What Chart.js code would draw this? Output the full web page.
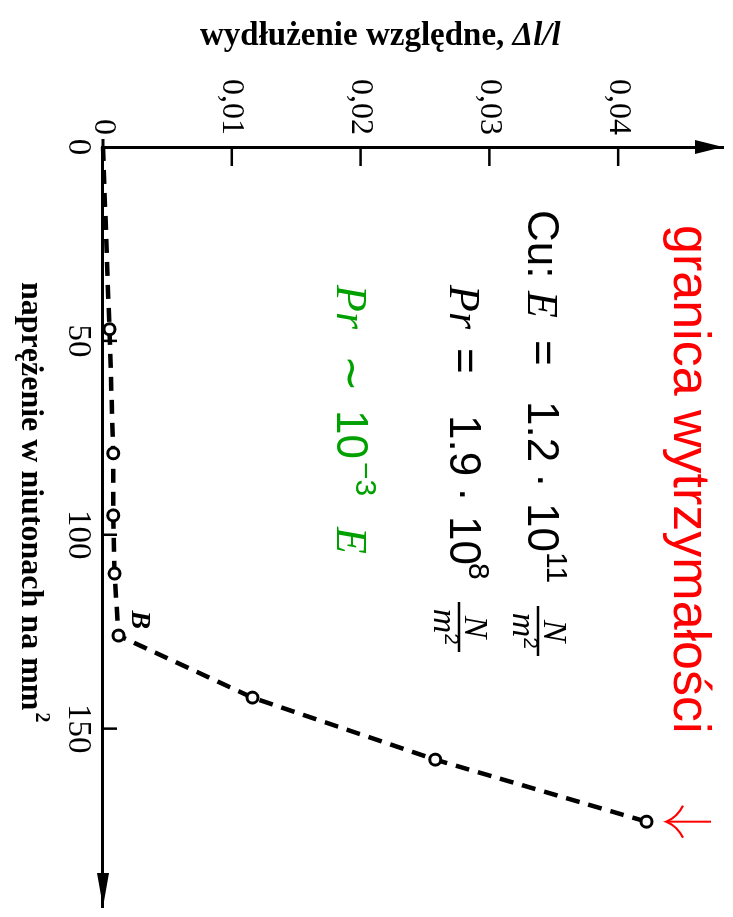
<!DOCTYPE html>
<html>
<head>
<meta charset="utf-8">
<script src="https://cdn.jsdelivr.net/npm/chart.js@4.4.1/dist/chart.umd.min.js"></script>
<style>
  html, body { margin: 0; padding: 0; background: #fff; overflow: hidden; }
  /* the figure is printed turned a quarter clockwise: draw it upright, then rotate */
  #wrap {
    position: absolute; left: 0; top: 0; width: 917px; height: 733px;
    transform-origin: 0 0; transform: translate(733px, 0) rotate(90deg);
  }
</style>
</head>
<body>
<div id="wrap"><canvas id="chart" width="917" height="733"></canvas></div>
<script>
// stress-strain curve for copper
const STRESS = [0, 47, 79, 95, 110, 126, 142, 158, 174];
const STRAIN = [0, 0.0005, 0.0008, 0.0008, 0.0009, 0.0012, 0.0116, 0.0258, 0.0422];

const STRESS_TICKS = [0, 50, 100, 150];
const STRESS_TICK_LABELS = ['0', '50', '100', '150'];
const STRAIN_TICKS = [0, 0.01, 0.02, 0.03, 0.04];
const STRAIN_TICK_LABELS = ['0', '0,01', '0,02', '0,03', '0,04'];

const POINT_LABEL = 'B';
const POINT_LABEL_INDEX = 5;

const X_TITLE = 'naprężenie w niutonach na mm';
const Y_TITLE = 'wydłużenie względne, ';
const Y_TITLE_SYMBOL = 'Δl/l';
const LIMIT_LABEL = 'granica wytrzymałości';

const SANS = '"Liberation Sans", Arial, sans-serif';
const SERIF = '"Liberation Serif", "Times New Roman", serif';
const GREEN = '#00a000';
const RED = '#ff0000';

// ── HELPERS ──────────────────────────────────────

function line(ctx, x1, y1, x2, y2) {
  ctx.beginPath();
  ctx.moveTo(x1, y1);
  ctx.lineTo(x2, y2);
  ctx.stroke();
}

function runs(ctx, base, parts) {
  ctx.textAlign = 'left';
  ctx.textBaseline = 'alphabetic';
  parts.forEach(p => {
    ctx.font = p.font;
    ctx.fillText(p.t, p.u, base - (p.rise || 0));
  });
}

function fraction(ctx, u, barV, w) {
  ctx.lineWidth = 2.5;
  line(ctx, u, barV, u + w, barV);
  ctx.textAlign = 'center';
  ctx.font = 'italic 34px ' + SERIF;
  ctx.fillText('N', u + w / 2, barV - 6);
  const mw = ctx.measureText('m').width;
  ctx.fillText('m', u + w / 2 - 6, barV + 25);
  ctx.font = '21px ' + SANS;
  ctx.textAlign = 'left';
  ctx.fillText('2', u + w / 2 - 6 + mw / 2, barV + 14);
}

// ── ANNOTATIONS, INWARD TICKS, ARROWS ────────────

const annotations = {
  id: 'annotations',
  afterDraw(chart) {
    const ctx = chart.ctx;
    const xs = chart.scales.x;
    const ys = chart.scales.y;
    const a = chart.chartArea;
    ctx.save();

    // tick marks pointing into the plot
    ctx.strokeStyle = '#000';
    ctx.lineWidth = 2.5;
    STRAIN_TICKS.slice(1).forEach(t => {
      const v = ys.getPixelForValue(t);
      line(ctx, a.left, v, a.left + 19, v);
    });
    STRESS_TICKS.slice(1).forEach(t => {
      const u = xs.getPixelForValue(t);
      line(ctx, u, a.bottom, u, a.bottom - 14);
    });

    // axis arrow heads
    ctx.fillStyle = '#000';
    ctx.beginPath();
    ctx.moveTo(a.right, a.bottom);
    ctx.lineTo(a.right - 34, a.bottom - 6);
    ctx.lineTo(a.right - 34, a.bottom + 6);
    ctx.closePath();
    ctx.fill();
    ctx.beginPath();
    ctx.moveTo(a.left, a.top);
    ctx.lineTo(a.left - 7, a.top + 28);
    ctx.lineTo(a.left + 7, a.top + 28);
    ctx.closePath();
    ctx.fill();
    ctx.lineWidth = 3;
    line(ctx, a.left, a.bottom, a.left - 8, a.bottom);

    // axis titles
    ctx.fillStyle = '#000';
    ctx.textAlign = 'left';
    ctx.textBaseline = 'alphabetic';
    ctx.font = 'bold 32px ' + SERIF;
    ctx.fillText(X_TITLE, 282, 711);
    const xw = ctx.measureText(X_TITLE).width;
    ctx.font = 'bold 20px ' + SERIF;
    ctx.fillText('2', 282 + xw + 2, 697);

    ctx.save();
    ctx.translate(45, 533);
    ctx.rotate(-Math.PI / 2);
    ctx.font = 'bold 33px ' + SERIF;
    ctx.fillText(Y_TITLE, 0, 0);
    const yw = ctx.measureText(Y_TITLE).width;
    ctx.font = 'italic bold 33px ' + SERIF;
    ctx.fillText(Y_TITLE_SYMBOL, yw, 0);
    ctx.restore();

    // label of the point B
    const pts = chart.getDatasetMeta(0).data;
    const pb = pts[POINT_LABEL_INDEX];
    ctx.font = 'italic bold 28px ' + SERIF;
    ctx.fillText(POINT_LABEL, pb.x - 25, pb.y - 14);

    // formulas
    ctx.fillStyle = '#000';
    ctx.strokeStyle = '#000';
    runs(ctx, 205, [
      { t: 'Cu:', font: '44px ' + SANS, u: 210 },
      { t: 'E', font: 'italic 44px ' + SERIF, u: 291 },
      { t: '=', font: '44px ' + SANS, u: 340 },
      { t: '1.2', font: '44px ' + SANS, u: 401 },
      { t: '·', font: '44px ' + SANS, u: 473 },
      { t: '10', font: '44px ' + SANS, u: 503 },
      { t: '11', font: '30px ' + SANS, u: 552, rise: 19 }
    ]);
    fraction(ctx, 606, 195, 50);

    runs(ctx, 283, [
      { t: 'Pr', font: 'italic 44px ' + SERIF, u: 285 },
      { t: '=', font: '44px ' + SANS, u: 348 },
      { t: '1.9', font: '44px ' + SANS, u: 415 },
      { t: '·', font: '44px ' + SANS, u: 487 },
      { t: '10', font: '44px ' + SANS, u: 516 },
      { t: '8', font: '30px ' + SANS, u: 563, rise: 19 }
    ]);
    fraction(ctx, 602, 274, 50);

    ctx.fillStyle = GREEN;
    runs(ctx, 396, [
      { t: 'Pr', font: 'italic 44px ' + SERIF, u: 285 },
      { t: '∼', font: '44px ' + SERIF, u: 355 },
      { t: '10', font: '44px ' + SANS, u: 410 },
      { t: '−3', font: '30px ' + SANS, u: 462, rise: 19 },
      { t: 'E', font: 'italic 44px ' + SERIF, u: 527 }
    ]);

    // limit of strength, arrow towards the last point
    ctx.fillStyle = RED;
    ctx.strokeStyle = RED;
    runs(ctx, 59, [{ t: LIMIT_LABEL, font: '52px ' + SANS, u: 225 }]);
    const pl = pts[pts.length - 1];
    ctx.lineWidth = 2;
    line(ctx, pl.x, 22, pl.x, 66);
    ctx.beginPath();
    ctx.moveTo(pl.x - 16, 50);
    ctx.quadraticCurveTo(pl.x - 4, 56, pl.x, 67);
    ctx.quadraticCurveTo(pl.x + 4, 56, pl.x + 16, 50);
    ctx.stroke();

    ctx.restore();
  }
};

// ── CHART ────────────────────────────────────────

const ctx = document.getElementById('chart').getContext('2d');
new Chart(ctx, {
  type: 'scatter',
  data: {
    datasets: [{
      data: STRESS.map((s, i) => ({ x: s, y: STRAIN[i] })),
      showLine: true,
      borderColor: '#000',
      borderWidth: 4.5,
      borderDash: [14, 9],
      pointRadius: STRESS.map((s, i) => (i === 0 ? 0 : 5.5)),
      pointBorderWidth: 3,
      pointBorderColor: '#000',
      pointBackgroundColor: '#fff',
      clip: false
    }]
  },
  options: {
    responsive: false,
    animation: false,
    devicePixelRatio: 1,
    layout: { padding: { top: 10, right: 10, left: 0, bottom: 0 } },
    plugins: { legend: { display: false }, tooltip: { enabled: false } },
    scales: {
      x: {
        type: 'linear',
        position: 'bottom',
        min: 0,
        max: 196,
        afterBuildTicks: s => { s.ticks = STRESS_TICKS.map(v => ({ value: v })); },
        afterFit: s => { s.height = 103; s.paddingLeft = 0; s.paddingRight = 0; },
        grid: { display: false, drawTicks: false },
        border: { display: true, color: '#000', width: 3 },
        ticks: {
          color: '#000',
          font: { family: SERIF, size: 33 },
          padding: 6,
          maxRotation: 0,
          autoSkip: false,
          callback: (v, i) => STRESS_TICK_LABELS[i]
        }
      },
      y: {
        type: 'linear',
        min: 0,
        max: 0.04814,
        afterBuildTicks: s => { s.ticks = STRAIN_TICKS.map(v => ({ value: v })); },
        afterFit: s => { s.width = 147; s.paddingTop = 0; s.paddingBottom = 0; },
        grid: { display: false, drawTicks: false },
        border: { display: true, color: '#000', width: 3 },
        ticks: {
          color: '#000',
          font: { family: SERIF, size: 32 },
          padding: 12,
          autoSkip: false,
          callback: (v, i) => STRAIN_TICK_LABELS[i]
        }
      }
    }
  },
  plugins: [annotations]
});
</script>
</body>
</html>
